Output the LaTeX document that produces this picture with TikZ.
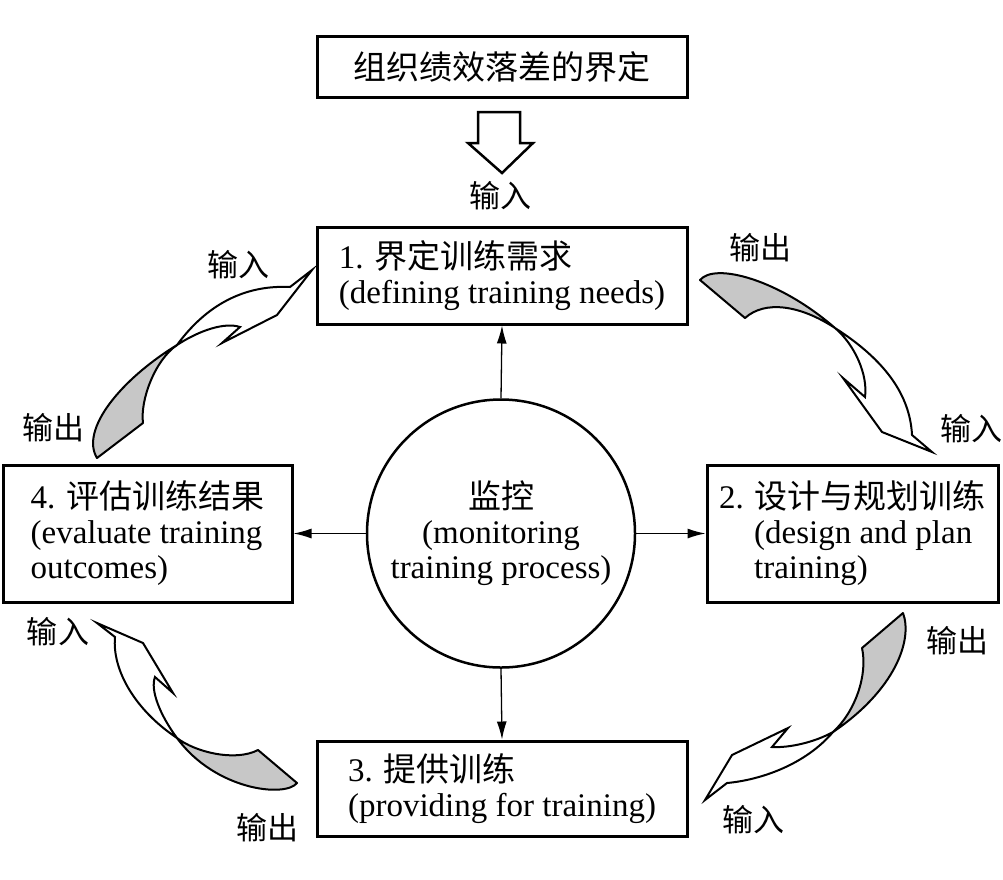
\documentclass[tikz,border=0pt]{standalone}
\usepackage{fontspec}
\setmainfont{Liberation Serif}
\newfontfamily\cjk{Noto Sans CJK SC}
\usetikzlibrary{arrows.meta}
\begin{document}
\begin{tikzpicture}[x=1pt,y=-1pt,
  box/.style={draw, line width=3pt, inner sep=0pt, align=left, font=\fontsize{33}{35}\selectfont},
  lbl/.style={inner sep=0pt, font=\fontsize{31}{31}\selectfont\cjk},
  conn/.style={line width=1.3pt, -{Latex[length=18pt,width=10pt]}},
  ribgray/.style={draw, line width=2pt, fill=black!22, line join=round},
  ribwhite/.style={draw, line width=2pt, fill=white, line join=miter},
]
\useasboundingbox (0,0) rectangle (1003,879);
\fill[white] (0,0) rectangle (1003,879);

% top box and hollow arrow
\node[box, minimum width=370pt, minimum height=61pt, align=center] (top) at (502,66.5) {{\cjk 组织绩效落差的界定}};
\draw[line width=2.5pt, fill=white, line join=miter] (478,112) -- (520,112) -- (520,143) -- (533,143) -- (502,173) -- (468,143) -- (478,143) -- cycle;
\node[lbl] (inTop) at (500,196) {输入};

% main boxes
\node[box, minimum width=370pt, minimum height=97pt] (b1) at (502,275.5) {1. {\cjk 界定训练需求}\\(defining training needs)};
\node[box, minimum width=291pt, minimum height=137pt] (b2) at (852.5,533.5) {2. {\cjk 设计与规划训练}\\\hspace*{35pt}(design and plan\\\hspace*{35pt}training)};
\node[box, minimum width=370pt, minimum height=95pt] (b3) at (502,788.5) {3. {\cjk 提供训练}\\(providing for training)};
\node[box, minimum width=289pt, minimum height=137pt] (b4) at (147.5,533.5) {4. {\cjk 评估训练结果}\\(evaluate training\\outcomes)};

% circle
\node[draw, circle, line width=2.5pt, minimum size=268pt, inner sep=0pt, align=center, font=\fontsize{33}{35}\selectfont] (mon) at (501,533.5) {{\cjk 监控}\\(monitoring\\training process)};

\draw[conn] (mon.north) -- (b1.south);
\draw[conn] (mon.east) -- (b2.west);
\draw[conn] (mon.south) -- (b3.north);
\draw[conn] (mon.west) -- (b4.east);

% ribbon arrow top-right
\path[ribgray] (700,280) .. controls (715,262) and (780,280) .. (835,328) .. controls (800,305) and (765,300) .. (745,318) -- cycle;
\path[ribwhite] (835,328) .. controls (855,345) and (868,375) .. (865,397) -- (843,378) -- (882,432) -- (932,452) -- (912,435) .. controls (910,395) and (885,360) .. (835,328) -- cycle;

% ribbon arrow bottom-right
\path[ribgray] (903,613) .. controls (913,640) and (895,690) .. (833,732) .. controls (855,712) and (868,675) .. (862,648) -- cycle;
\path[ribwhite] (833,732) .. controls (815,742) and (790,748) .. (772,747) -- (788,728) -- (732,755) -- (705,800) -- (727,783) .. controls (760,780) and (805,765) .. (833,732) -- cycle;

% ribbon arrow bottom-left
\path[ribgray] (297,783) .. controls (285,798) and (215,790) .. (177,738) .. controls (195,752) and (235,762) .. (258,750) -- cycle;
\path[ribwhite] (177,738) .. controls (160,715) and (150,690) .. (155,677) -- (173,693) -- (143,643) -- (97,623) -- (115,637) .. controls (112,670) and (135,710) .. (177,738) -- cycle;

% ribbon arrow top-left
\path[ribgray] (97,458) .. controls (80,430) and (120,380) .. (177,345) .. controls (155,360) and (140,400) .. (143,423) -- cycle;
\path[ribwhite] (177,345) .. controls (200,330) and (225,322) .. (240,327) -- (222,343) -- (277,315) -- (312,270) -- (290,287) .. controls (250,285) and (210,300) .. (177,345) -- cycle;

% labels
\node[lbl] (outTR) at (760,248) {输出};
\node[lbl] (inTR) at (971,429) {输入};
\node[lbl] (outBR) at (957,641) {输出};
\node[lbl] (inBR) at (753,820) {输入};
\node[lbl] (outBL) at (267,828) {输出};
\node[lbl] (inBL) at (58,632) {输入};
\node[lbl] (outTL) at (53,428) {输出};
\node[lbl] (inTL) at (238,265) {输入};
\end{tikzpicture}
\end{document}
